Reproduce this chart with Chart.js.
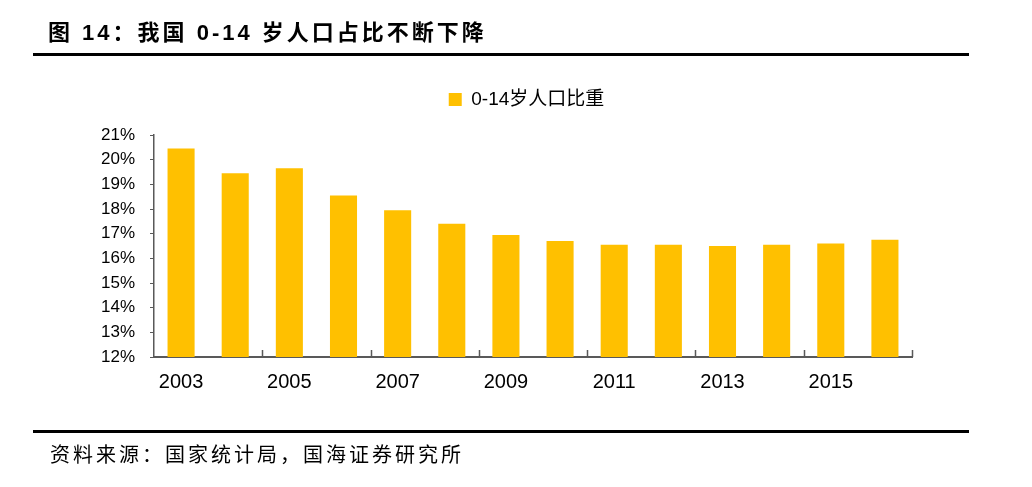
<!DOCTYPE html>
<html>
<head>
<meta charset="utf-8">
<script src="https://cdn.jsdelivr.net/npm/chart.js@4"></script>
<style>
  html, body { margin: 0; padding: 0; background: #fff; }
  #wrap { position: relative; width: 1032px; height: 487px; }
</style>
</head>
<body>
<div id="wrap"><canvas id="popChart"></canvas></div>
<script>
const years = ['2003', '2004', '2005', '2006', '2007', '2008', '2009', '2010', '2011', '2012', '2013', '2014', '2015', '2016'];
const share0to14 = [20.45, 19.45, 19.65, 18.55, 17.95, 17.4, 16.95, 16.7, 16.55, 16.55, 16.5, 16.55, 16.6, 16.75];
const seriesName = '0-14岁人口比重';
const chartTitle = '图 14：我国 0-14 岁人口占比不断下降';
const sourceNote = '资料来源：国家统计局，国海证券研究所';

const latinCjk = '"Liberation Sans", Arial, "Noto Sans CJK SC", sans-serif';

// title, rules, footer and inward x ticks
const decor = {
  id: 'decor',
  afterInit(chart) {
    // leave a gap between legend and plot
    const lg = chart.legend;
    const fit = lg.fit;
    lg.fit = function () { fit.call(this); this.height += 16; };
  },
  beforeDraw(chart) {
    const c = chart.ctx;
    c.save();
    c.fillStyle = '#fff';
    c.fillRect(0, 0, chart.width, chart.height);
    c.restore();
  },
  afterDraw(chart) {
    const c = chart.ctx;
    c.save();
    c.fillStyle = '#000';
    c.textBaseline = 'middle';
    c.font = 'bold 22px ' + latinCjk;
    c.letterSpacing = '3px';
    c.fillText(chartTitle, 48, 34);
    c.font = '20px "Noto Sans CJK SC", sans-serif';
    c.letterSpacing = '3px';
    c.fillText(sourceNote, 50, 454);
    c.letterSpacing = '0px';
    c.fillRect(33, 53, 936, 3);
    c.fillRect(33, 430, 936, 3);

    const x = chart.scales.x;
    c.strokeStyle = '#595959';
    c.lineWidth = 1.5;
    c.beginPath();
    for (let i = 2; i <= years.length; i += 2) {
      const px = Math.round(x.getPixelForValue(i - 0.5)) + 0.5;
      c.moveTo(px, x.top);
      c.lineTo(px, x.top - 7);
    }
    c.stroke();
    c.restore();
  }
};

new Chart(document.getElementById('popChart'), {
  type: 'bar',
  data: {
    labels: years,
    datasets: [{
      label: seriesName,
      data: share0to14,
      backgroundColor: '#FFC000',
      categoryPercentage: 1,
      barPercentage: 0.5
    }]
  },
  options: {
    responsive: true,
    maintainAspectRatio: false,
    devicePixelRatio: 1,
    animation: false,
    layout: { padding: { left: 100, right: 79, top: 80, bottom: 88 } },
    plugins: {
      legend: {
        position: 'top',
        labels: {
          boxWidth: 13,
          boxHeight: 13,
          padding: 10,
          color: '#000',
          font: { size: 19, family: latinCjk }
        }
      },
      tooltip: { enabled: false }
    },
    scales: {
      x: {
        grid: { display: false },
        border: { color: '#595959', width: 2 },
        ticks: {
          autoSkip: false,
          maxRotation: 0,
          padding: 5,
          color: '#000',
          font: { size: 20, family: latinCjk },
          callback: function (v, i) { return i % 2 === 0 ? this.getLabelForValue(v) : ''; }
        }
      },
      y: {
        min: 12,
        max: 21,
        afterFit: s => { s.width = 54; },
        grid: { drawOnChartArea: false, tickLength: 4, color: '#595959' },
        border: { color: '#595959', width: 1.5 },
        ticks: {
          stepSize: 1,
          padding: 15,
          color: '#000',
          font: { size: 17, family: latinCjk },
          callback: v => v + '%'
        }
      },
      yRight: {
        position: 'right',
        afterFit: s => { s.width = 41; },
        grid: { display: false },
        border: { display: false },
        ticks: { display: false }
      }
    }
  },
  plugins: [decor]
});
</script>
</body>
</html>
